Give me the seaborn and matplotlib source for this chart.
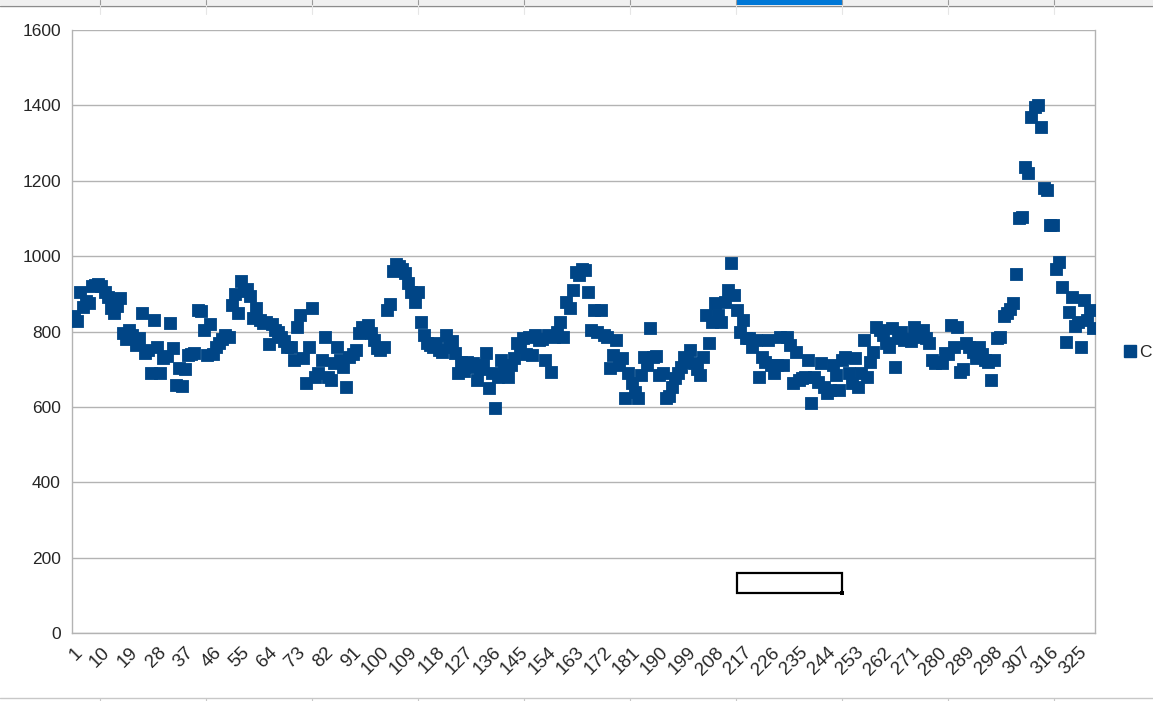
import numpy as np
import pandas as pd
import matplotlib
matplotlib.use("Agg")
import matplotlib.pyplot as plt
from matplotlib.patches import Rectangle
from matplotlib.lines import Line2D
import seaborn as sns

# values of series "C", one per row (rows 1..330)
c_vals = [
    840, 828, 905, 865, 882, 875, 920, 923, 925, 922,
    905, 891, 862, 850, 868, 888, 795, 780, 804, 790,
    765, 782, 849, 743, 750, 690, 830, 759, 690, 729,
    735, 822, 756, 658, 703, 655, 700, 737, 740, 742,
    858, 855, 805, 738, 820, 740, 758, 770, 780, 790,
    785, 870, 900, 848, 935, 908, 912, 893, 836, 862,
    830, 822, 825, 766, 820, 805, 798, 785, 775, 760,
    759, 724, 812, 843, 729, 663, 759, 862, 679, 690,
    724, 785, 679, 671, 716, 759, 724, 706, 653, 732,
    740, 751, 796, 812, 805, 817, 796, 777, 756, 752,
    758, 857, 872, 960, 980, 975, 965, 955, 928, 905,
    878, 905, 825, 790, 769, 765, 760, 770, 750, 745,
    790, 760, 775, 743, 690, 720, 695, 720, 705, 716,
    671, 700, 711, 743, 650, 690, 597, 679, 724, 700,
    679, 711, 730, 769, 760, 782, 740, 785, 737, 790,
    777, 780, 724, 790, 692, 785, 800, 825, 785, 878,
    862, 910, 958, 950, 965, 963, 905, 804, 857, 798,
    857, 790, 785, 703, 737, 777, 711, 729, 623, 690,
    663, 640, 623, 684, 732, 711, 809, 732, 735, 684,
    690, 623, 630, 653, 676, 690, 706, 732, 720, 751,
    716, 700, 684, 732, 843, 769, 825, 875, 843, 825,
    878, 910, 981, 896, 857, 798, 830, 782, 782, 759,
    777, 679, 732, 719, 777, 711, 690, 710, 785, 711,
    785, 764, 663, 745, 670, 676, 680, 724, 610, 680,
    666, 716, 653, 637, 645, 711, 684, 645, 724, 732,
    690, 663, 729, 653, 690, 777, 679, 719, 745, 812,
    805, 790, 769, 759, 809, 706, 782, 800, 777, 780,
    775, 812, 790, 785, 804, 782, 770, 724, 716, 720,
    716, 743, 740, 817, 759, 812, 692, 700, 769, 760,
    745, 730, 759, 740, 724, 720, 672, 725, 783, 785,
    840, 848, 860, 875, 952, 1100, 1105, 1236, 1220, 1370,
    1395, 1400, 1342, 1180, 1175, 1082, 1082, 965, 985, 918,
    772, 852, 891, 815, 825, 760, 883, 830, 857, 810,
]
rows = list(range(1, len(c_vals) + 1))
y_ticks = [0, 200, 400, 600, 800, 1000, 1200, 1400, 1600]

df = pd.DataFrame({"row": rows, "C": c_vals})

sns.set_style("white")
plt.rcParams["font.family"] = ["Liberation Sans", "DejaVu Sans"]

W, H = 1153, 701
fig = plt.figure(figsize=(W / 100, H / 100), dpi=100)
ax = fig.add_axes([72 / W, 1 - 633 / H, (1095 - 72) / W, (633 - 30) / H])

grid_col = "#b3b3b3"
blue = "#004586"

sns.scatterplot(data=df, x="row", y="C", marker="s", s=80, color=blue,
                edgecolor=blue, linewidth=0.6, ax=ax, zorder=3, legend=False)

ax.set_xlim(0.5, len(rows) + 0.5)
ax.set_ylim(0, 1600)
ax.set_yticks(y_ticks)
ax.set_yticklabels([str(v) for v in y_ticks], fontsize=12.5)
ax.yaxis.grid(True, color=grid_col, linewidth=1)
ax.set_axisbelow(True)

# every row gets a tick, every 9th row gets a label
ax.set_xticks(rows)
ax.set_xticklabels([str(r) if (r - 1) % 9 == 0 else "" for r in rows],
                   fontsize=13.5, rotation=45, ha="right", rotation_mode="anchor")
ax.tick_params(axis="x", length=4, width=0.8, color=grid_col, pad=4)
ax.tick_params(axis="y", length=6, width=1, color=grid_col, pad=2)
ax.set_xlabel("")
ax.set_ylabel("")
for sp in ax.spines.values():
    sp.set_color(grid_col)
    sp.set_linewidth(1)
ax.spines["top"].set_visible(False)

# legend on the right
handle = Line2D([], [], marker="s", linestyle="", color=blue, markersize=8)
ax.legend([handle], ["C"], loc="center left", bbox_to_anchor=(1.027, 0.466),
          frameon=False, fontsize=12.5, handletextpad=0.05, handlelength=0.9,
          borderpad=0, borderaxespad=0)

# spreadsheet column header strip on top
def px(x, y):
    return x / W, 1 - y / H

fig.add_artist(Rectangle(px(0, 5), 1, 5 / H, transform=fig.transFigure,
                         facecolor="#f0f0f0", edgecolor="none"))
fig.add_artist(Rectangle(px(737, 5), 105 / W, 5 / H, transform=fig.transFigure,
                         facecolor="#0078d7", edgecolor="none"))
fig.add_artist(Line2D([0, 1], [1 - 5.5 / H] * 2, transform=fig.transFigure,
                      color="#8c8c8c", linewidth=1))
for xc in [100, 206, 312, 418, 524, 630, 736, 842, 948, 1054]:
    fig.add_artist(Line2D([xc / W] * 2, [1, 1 - 5 / H], transform=fig.transFigure,
                          color="#9a9a9a", linewidth=0.8))
    fig.add_artist(Line2D([xc / W] * 2, [1 - 5 / H, 1 - 14 / H],
                          transform=fig.transFigure, color="#e6e6e6", linewidth=0.8))

# row line at the bottom
fig.add_artist(Line2D([0, 1], [1 - 698 / H] * 2, transform=fig.transFigure,
                      color="#c8c8c8", linewidth=1))
for xc in [100, 206, 312, 418, 524, 630, 736, 842, 948, 1054]:
    fig.add_artist(Line2D([xc / W] * 2, [1 - 698 / H, 0], transform=fig.transFigure,
                          color="#c8c8c8", linewidth=0.8))

# selected cell outline
fig.add_artist(Rectangle(px(737, 593), 105 / W, 20 / H, transform=fig.transFigure,
                         facecolor="none", edgecolor="black", linewidth=1.6))
fig.add_artist(Rectangle(px(840, 595), 4 / W, 4 / H, transform=fig.transFigure,
                         facecolor="black", edgecolor="none"))

fig.savefig("out.png", dpi=100)
